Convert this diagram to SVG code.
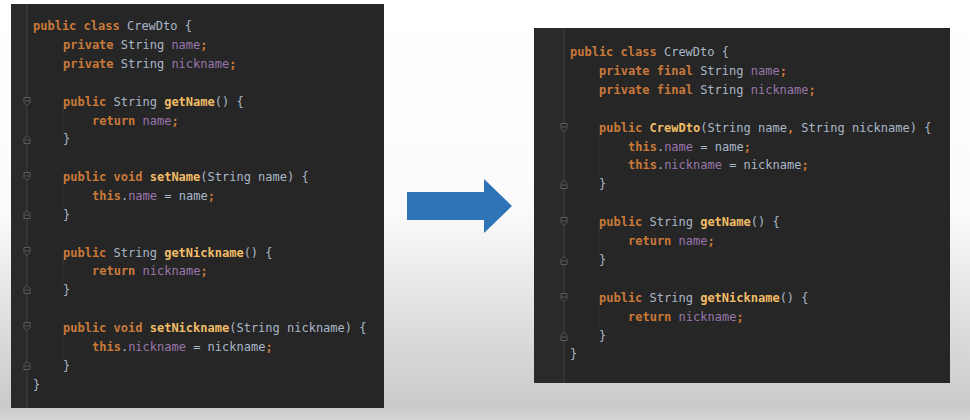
<svg xmlns="http://www.w3.org/2000/svg" width="970" height="420" viewBox="0 0 970 420">
<defs>
<linearGradient id="bg" x1="0" y1="0" x2="0" y2="1">
<stop offset="0" stop-color="#ffffff"/>
<stop offset="0.5" stop-color="#fbfbfb"/>
<stop offset="0.97" stop-color="#c9c9c9"/>
<stop offset="1" stop-color="#d6d6d6"/>
</linearGradient>
<path id="fo" d="M-3,-4.5 h6 v5 l-3,3 l-3,-3 z M-2,-1 h4" fill="#262626" stroke="#5c5c5c" stroke-width="1"/>
<path id="fc" d="M-3,4.5 h6 v-5 l-3,-3 l-3,3 z M-2,1 h4" fill="#262626" stroke="#5c5c5c" stroke-width="1"/>
</defs>
<style>
.code{font-family:"DejaVu Sans Mono","Liberation Mono",monospace;font-size:12px;fill:#a9b7c6;white-space:pre}
.k{fill:#c9793a;font-weight:bold}
.f{fill:#9876aa}
.m{fill:#f2bd67;font-weight:bold}
.panel{fill:#262626}
.gut{stroke:#3d3d3d;stroke-width:1.2}
.guide{stroke:#333333;stroke-width:1}
</style>
<rect width="970" height="420" fill="url(#bg)"/>

<g id="before">
<rect class="panel" x="11" y="4" width="373" height="404"/>
<rect x="11" y="4" width="16" height="404" fill="#2a2a2a"/>
<line class="gut" x1="27" y1="4" x2="27" y2="408"/>
<line class="guide" x1="63" y1="108" x2="63" y2="133"/>
<line class="guide" x1="63" y1="183" x2="63" y2="208"/>
<line class="guide" x1="63" y1="258" x2="63" y2="283"/>
<line class="guide" x1="63" y1="333" x2="63" y2="358"/>
<use href="#fo" x="27" y="102"/><use href="#fc" x="27" y="139"/>
<use href="#fo" x="27" y="177"/><use href="#fc" x="27" y="214"/>
<use href="#fo" x="27" y="252"/><use href="#fc" x="27" y="289"/>
<use href="#fo" x="27" y="327"/><use href="#fc" x="27" y="365"/>
<text class="code" x="33" y="30"><tspan class="k">public class</tspan> CrewDto {</text>
<text class="code" x="63" y="49"><tspan class="k">private</tspan> String <tspan class="f">name</tspan><tspan class="k">;</tspan></text>
<text class="code" x="63" y="68"><tspan class="k">private</tspan> String <tspan class="f">nickname</tspan><tspan class="k">;</tspan></text>
<text class="code" x="63" y="106"><tspan class="k">public</tspan> String <tspan class="m">getName</tspan>() {</text>
<text class="code" x="92" y="125"><tspan class="k">return</tspan> <tspan class="f">name</tspan><tspan class="k">;</tspan></text>
<text class="code" x="63" y="143">}</text>
<text class="code" x="63" y="181"><tspan class="k">public void</tspan> <tspan class="m">setName</tspan>(String name) {</text>
<text class="code" x="92" y="200"><tspan class="k">this</tspan>.<tspan class="f">name</tspan> = name<tspan class="k">;</tspan></text>
<text class="code" x="63" y="219">}</text>
<text class="code" x="63" y="257"><tspan class="k">public</tspan> String <tspan class="m">getNickname</tspan>() {</text>
<text class="code" x="92" y="275"><tspan class="k">return</tspan> <tspan class="f">nickname</tspan><tspan class="k">;</tspan></text>
<text class="code" x="63" y="294">}</text>
<text class="code" x="63" y="332"><tspan class="k">public void</tspan> <tspan class="m">setNickname</tspan>(String nickname) {</text>
<text class="code" x="92" y="351"><tspan class="k">this</tspan>.<tspan class="f">nickname</tspan> = nickname<tspan class="k">;</tspan></text>
<text class="code" x="63" y="370">}</text>
<text class="code" x="33" y="389">}</text>
</g>

<g id="after">
<rect class="panel" x="534" y="28" width="416" height="355"/>
<rect x="534" y="28" width="30" height="355" fill="#2a2a2a"/>
<line class="gut" x1="564" y1="28" x2="564" y2="383"/>
<line class="guide" x1="599" y1="134" x2="599" y2="178"/>
<line class="guide" x1="599" y1="228" x2="599" y2="254"/>
<line class="guide" x1="599" y1="304" x2="599" y2="330"/>
<use href="#fo" x="564" y="128"/><use href="#fc" x="564" y="184"/>
<use href="#fo" x="564" y="222"/><use href="#fc" x="564" y="260"/>
<use href="#fo" x="564" y="298"/><use href="#fc" x="564" y="336"/>
<text class="code" x="570" y="56"><tspan class="k">public class</tspan> CrewDto {</text>
<text class="code" x="599" y="75"><tspan class="k">private final</tspan> String <tspan class="f">name</tspan><tspan class="k">;</tspan></text>
<text class="code" x="599" y="94"><tspan class="k">private final</tspan> String <tspan class="f">nickname</tspan><tspan class="k">;</tspan></text>
<text class="code" x="599" y="132"><tspan class="k">public</tspan> <tspan class="m">CrewDto</tspan>(String name<tspan class="k">,</tspan> String nickname) {</text>
<text class="code" x="628" y="151"><tspan class="k">this</tspan>.<tspan class="f">name</tspan> = name<tspan class="k">;</tspan></text>
<text class="code" x="628" y="169"><tspan class="k">this</tspan>.<tspan class="f">nickname</tspan> = nickname<tspan class="k">;</tspan></text>
<text class="code" x="599" y="188">}</text>
<text class="code" x="599" y="226"><tspan class="k">public</tspan> String <tspan class="m">getName</tspan>() {</text>
<text class="code" x="628" y="245"><tspan class="k">return</tspan> <tspan class="f">name</tspan><tspan class="k">;</tspan></text>
<text class="code" x="599" y="264">}</text>
<text class="code" x="599" y="302"><tspan class="k">public</tspan> String <tspan class="m">getNickname</tspan>() {</text>
<text class="code" x="628" y="321"><tspan class="k">return</tspan> <tspan class="f">nickname</tspan><tspan class="k">;</tspan></text>
<text class="code" x="599" y="340">}</text>
<text class="code" x="570" y="358">}</text>
</g>

<g id="connectors">
<polygon points="407,192 484,192 484,179 512,206 484,233 484,220 407,220" fill="#2e74b7"/>
</g>
</svg>
